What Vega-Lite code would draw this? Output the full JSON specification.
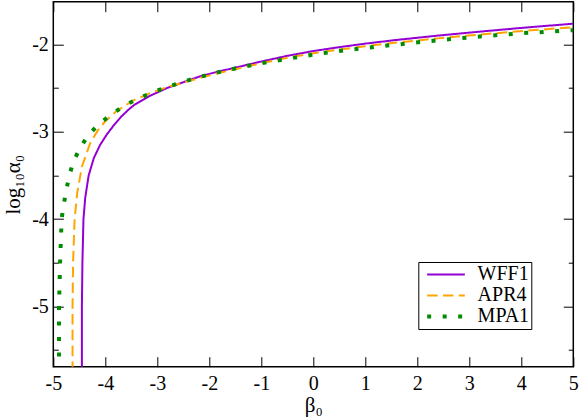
{
  "$schema": "https://vega.github.io/schema/vega-lite/v6.json",
  "width": 520,
  "height": 365,
  "autosize": {"type": "none"},
  "padding": {"left": 53.3, "top": 1.7, "right": 7.7, "bottom": 52.3},
  "background": "white",
  "config": {
    "view": {"stroke": "black", "strokeWidth": 1.5},
    "font": "'Liberation Serif', 'Times New Roman', Times, serif"
  },
  "data": {
    "values": [
      {"eos": "WFF1", "i": 0, "beta": -4.45, "loga": -5.75},
      {"eos": "WFF1", "i": 1, "beta": -4.45, "loga": -5.0},
      {"eos": "WFF1", "i": 2, "beta": -4.44, "loga": -4.5},
      {"eos": "WFF1", "i": 3, "beta": -4.42, "loga": -4.0},
      {"eos": "WFF1", "i": 4, "beta": -4.385, "loga": -3.75},
      {"eos": "WFF1", "i": 5, "beta": -4.32, "loga": -3.5},
      {"eos": "WFF1", "i": 6, "beta": -4.22, "loga": -3.3},
      {"eos": "WFF1", "i": 7, "beta": -4.1, "loga": -3.15},
      {"eos": "WFF1", "i": 8, "beta": -3.97, "loga": -3.03},
      {"eos": "WFF1", "i": 9, "beta": -3.83, "loga": -2.92},
      {"eos": "WFF1", "i": 10, "beta": -3.7, "loga": -2.83},
      {"eos": "WFF1", "i": 11, "beta": -3.56, "loga": -2.75},
      {"eos": "WFF1", "i": 12, "beta": -3.44, "loga": -2.69},
      {"eos": "WFF1", "i": 13, "beta": -3.15, "loga": -2.59},
      {"eos": "WFF1", "i": 14, "beta": -2.82, "loga": -2.5},
      {"eos": "WFF1", "i": 15, "beta": -2.44, "loga": -2.42},
      {"eos": "WFF1", "i": 16, "beta": -2.18, "loga": -2.365},
      {"eos": "WFF1", "i": 17, "beta": -1.86, "loga": -2.315},
      {"eos": "WFF1", "i": 18, "beta": -1.5, "loga": -2.265},
      {"eos": "WFF1", "i": 19, "beta": -1.0, "loga": -2.195},
      {"eos": "WFF1", "i": 20, "beta": -0.5, "loga": -2.13},
      {"eos": "WFF1", "i": 21, "beta": 0.0, "loga": -2.075},
      {"eos": "WFF1", "i": 22, "beta": 0.45, "loga": -2.035},
      {"eos": "WFF1", "i": 23, "beta": 1.0, "loga": -1.99},
      {"eos": "WFF1", "i": 24, "beta": 1.6, "loga": -1.948},
      {"eos": "WFF1", "i": 25, "beta": 2.4, "loga": -1.898},
      {"eos": "WFF1", "i": 26, "beta": 3.2, "loga": -1.853},
      {"eos": "WFF1", "i": 27, "beta": 4.1, "loga": -1.805},
      {"eos": "WFF1", "i": 28, "beta": 5.0, "loga": -1.762},
      {"eos": "APR4", "i": 0, "beta": -4.63, "loga": -5.75},
      {"eos": "APR4", "i": 1, "beta": -4.63, "loga": -5.0},
      {"eos": "APR4", "i": 2, "beta": -4.62, "loga": -4.5},
      {"eos": "APR4", "i": 3, "beta": -4.59, "loga": -4.0},
      {"eos": "APR4", "i": 4, "beta": -4.54, "loga": -3.7},
      {"eos": "APR4", "i": 5, "beta": -4.45, "loga": -3.4},
      {"eos": "APR4", "i": 6, "beta": -4.29, "loga": -3.13},
      {"eos": "APR4", "i": 7, "beta": -4.15, "loga": -2.99},
      {"eos": "APR4", "i": 8, "beta": -4.01, "loga": -2.885},
      {"eos": "APR4", "i": 9, "beta": -3.8, "loga": -2.77},
      {"eos": "APR4", "i": 10, "beta": -3.46, "loga": -2.64},
      {"eos": "APR4", "i": 11, "beta": -3.15, "loga": -2.56},
      {"eos": "APR4", "i": 12, "beta": -2.82, "loga": -2.49},
      {"eos": "APR4", "i": 13, "beta": -2.44, "loga": -2.425},
      {"eos": "APR4", "i": 14, "beta": -2.18, "loga": -2.383},
      {"eos": "APR4", "i": 15, "beta": -1.86, "loga": -2.333},
      {"eos": "APR4", "i": 16, "beta": -1.5, "loga": -2.283},
      {"eos": "APR4", "i": 17, "beta": -1.0, "loga": -2.215},
      {"eos": "APR4", "i": 18, "beta": -0.5, "loga": -2.152},
      {"eos": "APR4", "i": 19, "beta": 0.0, "loga": -2.1},
      {"eos": "APR4", "i": 20, "beta": 0.45, "loga": -2.062},
      {"eos": "APR4", "i": 21, "beta": 1.0, "loga": -2.02},
      {"eos": "APR4", "i": 22, "beta": 1.6, "loga": -1.978},
      {"eos": "APR4", "i": 23, "beta": 2.4, "loga": -1.93},
      {"eos": "APR4", "i": 24, "beta": 3.2, "loga": -1.886},
      {"eos": "APR4", "i": 25, "beta": 4.1, "loga": -1.842},
      {"eos": "APR4", "i": 26, "beta": 5.0, "loga": -1.802},
      {"eos": "MPA1", "i": 0, "beta": -4.89, "loga": -5.75},
      {"eos": "MPA1", "i": 1, "beta": -4.89, "loga": -5.0},
      {"eos": "MPA1", "i": 2, "beta": -4.87, "loga": -4.5},
      {"eos": "MPA1", "i": 3, "beta": -4.84, "loga": -4.0},
      {"eos": "MPA1", "i": 4, "beta": -4.81, "loga": -3.87},
      {"eos": "MPA1", "i": 5, "beta": -4.76, "loga": -3.7},
      {"eos": "MPA1", "i": 6, "beta": -4.7, "loga": -3.52},
      {"eos": "MPA1", "i": 7, "beta": -4.62, "loga": -3.35},
      {"eos": "MPA1", "i": 8, "beta": -4.49, "loga": -3.19},
      {"eos": "MPA1", "i": 9, "beta": -4.33, "loga": -3.04},
      {"eos": "MPA1", "i": 10, "beta": -4.12, "loga": -2.91},
      {"eos": "MPA1", "i": 11, "beta": -3.88, "loga": -2.8},
      {"eos": "MPA1", "i": 12, "beta": -3.63, "loga": -2.7},
      {"eos": "MPA1", "i": 13, "beta": -3.37, "loga": -2.62},
      {"eos": "MPA1", "i": 14, "beta": -3.1, "loga": -2.55},
      {"eos": "MPA1", "i": 15, "beta": -2.8, "loga": -2.485},
      {"eos": "MPA1", "i": 16, "beta": -2.52, "loga": -2.43},
      {"eos": "MPA1", "i": 17, "beta": -2.23, "loga": -2.38},
      {"eos": "MPA1", "i": 18, "beta": -1.94, "loga": -2.333},
      {"eos": "MPA1", "i": 19, "beta": -1.65, "loga": -2.293},
      {"eos": "MPA1", "i": 20, "beta": -1.35, "loga": -2.256},
      {"eos": "MPA1", "i": 21, "beta": -1.06, "loga": -2.222},
      {"eos": "MPA1", "i": 22, "beta": -0.76, "loga": -2.19},
      {"eos": "MPA1", "i": 23, "beta": -0.46, "loga": -2.16},
      {"eos": "MPA1", "i": 24, "beta": -0.17, "loga": -2.132},
      {"eos": "MPA1", "i": 25, "beta": 0.13, "loga": -2.105},
      {"eos": "MPA1", "i": 26, "beta": 0.42, "loga": -2.08},
      {"eos": "MPA1", "i": 27, "beta": 0.73, "loga": -2.058},
      {"eos": "MPA1", "i": 28, "beta": 1.02, "loga": -2.038},
      {"eos": "MPA1", "i": 29, "beta": 1.32, "loga": -2.018},
      {"eos": "MPA1", "i": 30, "beta": 1.62, "loga": -2.0},
      {"eos": "MPA1", "i": 31, "beta": 2.22, "loga": -1.962},
      {"eos": "MPA1", "i": 32, "beta": 2.82, "loga": -1.928},
      {"eos": "MPA1", "i": 33, "beta": 3.42, "loga": -1.898},
      {"eos": "MPA1", "i": 34, "beta": 4.02, "loga": -1.871},
      {"eos": "MPA1", "i": 35, "beta": 4.62, "loga": -1.849},
      {"eos": "MPA1", "i": 36, "beta": 5.0, "loga": -1.836}
    ]
  },
  "layer": [
    {
      "mark": {"type": "line", "clip": true, "strokeCap": "butt"},
      "encoding": {
        "x": {
          "field": "beta", "type": "quantitative",
          "scale": {"domain": [-5, 5], "nice": false, "zero": false},
          "axis": {
            "orient": "bottom",
            "values": [-5, -4, -3, -2, -1, 0, 1, 2, 3, 4, 5],
            "domain": false, "grid": false,
            "tickSize": -10, "tickColor": "black", "tickWidth": 1,
            "labelPadding": 16.5, "labelFontSize": 20, "labelColor": "black",
            "labelFont": "'Liberation Serif', 'Times New Roman', Times, serif",
            "labelExpr": "'' + datum.value",
            "labelFlush": false, "labelOverlap": false,
            "title": "β₀", "titleFont": "'Liberation Serif', 'Times New Roman', Times, serif", "titleFontSize": 21,
            "titleFontWeight": "normal", "titleColor": "black",
            "titleBaseline": "alphabetic", "titleY": 45
          }
        },
        "y": {
          "field": "loga", "type": "quantitative",
          "scale": {"domain": [-5.69, -1.51], "nice": false, "zero": false},
          "axis": {
            "orient": "left",
            "values": [-5.5, -5, -4.5, -4, -3.5, -3, -2.5, -2],
            "domain": false, "grid": false,
            "tickSize": {"condition": {"test": "datum.value % 1 !== 0", "value": -5}, "value": -10},
            "tickColor": "black", "tickWidth": 1,
            "labelPadding": 15, "labelFontSize": 20, "labelColor": "black",
            "labelFont": "'Liberation Serif', 'Times New Roman', Times, serif",
            "labelExpr": "datum.value % 1 === 0 ? '' + datum.value : ''",
            "labelFlush": false, "labelOverlap": false,
            "title": "log₁₀α₀", "titleFont": "'Liberation Serif', 'Times New Roman', Times, serif", "titleFontSize": 21,
            "titleFontWeight": "normal", "titleColor": "black",
            "titleAngle": 270, "titleBaseline": "alphabetic", "titleX": -34
          }
        },
        "color": {
          "field": "eos", "type": "nominal",
          "scale": {"domain": ["WFF1", "APR4", "MPA1"], "range": ["#9400d3", "#ffa500", "#008b00"]},
          "legend": {
            "orient": "none", "legendX": 365, "legendY": 260.3,
            "title": null, "symbolType": "stroke", "symbolSize": 1420,
            "clipHeight": 20.8, "rowPadding": 0, "padding": 2, "symbolOffset": 4.7,
            "labelOffset": 10.6, "labelFont": "'Liberation Serif', 'Times New Roman', Times, serif", "labelFontSize": 20,
            "labelColor": "black", "strokeColor": "black", "fillColor": "white"
          }
        },
        "strokeDash": {
          "field": "eos", "type": "nominal",
          "scale": {"domain": ["WFF1", "APR4", "MPA1"], "range": [[1, 0], [10.5, 5.3], [4, 11.5]]},
          "legend": {
            "orient": "none", "legendX": 365, "legendY": 260.3,
            "title": null, "symbolType": "stroke", "symbolSize": 1420,
            "clipHeight": 20.8, "rowPadding": 0, "padding": 2, "symbolOffset": 4.7,
            "labelOffset": 10.6, "labelFont": "'Liberation Serif', 'Times New Roman', Times, serif", "labelFontSize": 20,
            "labelColor": "black", "strokeColor": "black", "fillColor": "white"
          }
        },
        "strokeWidth": {
          "field": "eos", "type": "nominal",
          "scale": {"type": "ordinal", "domain": ["WFF1", "APR4", "MPA1"], "range": [2, 2, 4]},
          "legend": {
            "orient": "none", "legendX": 365, "legendY": 260.3,
            "title": null, "symbolType": "stroke", "symbolSize": 1420,
            "clipHeight": 20.8, "rowPadding": 0, "padding": 2, "symbolOffset": 4.7,
            "labelOffset": 10.6, "labelFont": "'Liberation Serif', 'Times New Roman', Times, serif", "labelFontSize": 20,
            "labelColor": "black", "strokeColor": "black", "fillColor": "white"
          }
        },
        "order": {"field": "i", "type": "quantitative"}
      }
    },
    {
      "mark": {"type": "line", "opacity": 0, "clip": true},
      "encoding": {
        "x": {
          "field": "beta", "type": "quantitative",
          "scale": {"domain": [-5, 5], "nice": false, "zero": false},
          "axis": {
            "orient": "top",
            "values": [-5, -4, -3, -2, -1, 0, 1, 2, 3, 4, 5],
            "domain": false, "grid": false, "labels": false, "title": null,
            "tickSize": -10, "tickColor": "black", "tickWidth": 1
          }
        },
        "y": {
          "field": "loga", "type": "quantitative",
          "scale": {"domain": [-5.69, -1.51], "nice": false, "zero": false},
          "axis": {
            "orient": "right",
            "values": [-5.5, -5, -4.5, -4, -3.5, -3, -2.5, -2],
            "domain": false, "grid": false, "labels": false, "title": null,
            "tickSize": {"condition": {"test": "datum.value % 1 !== 0", "value": -5}, "value": -10},
            "tickColor": "black", "tickWidth": 1
          }
        },
        "detail": {"field": "eos", "type": "nominal"},
        "order": {"field": "i", "type": "quantitative"}
      }
    }
  ],
  "resolve": {"axis": {"x": "independent", "y": "independent"}}
}
